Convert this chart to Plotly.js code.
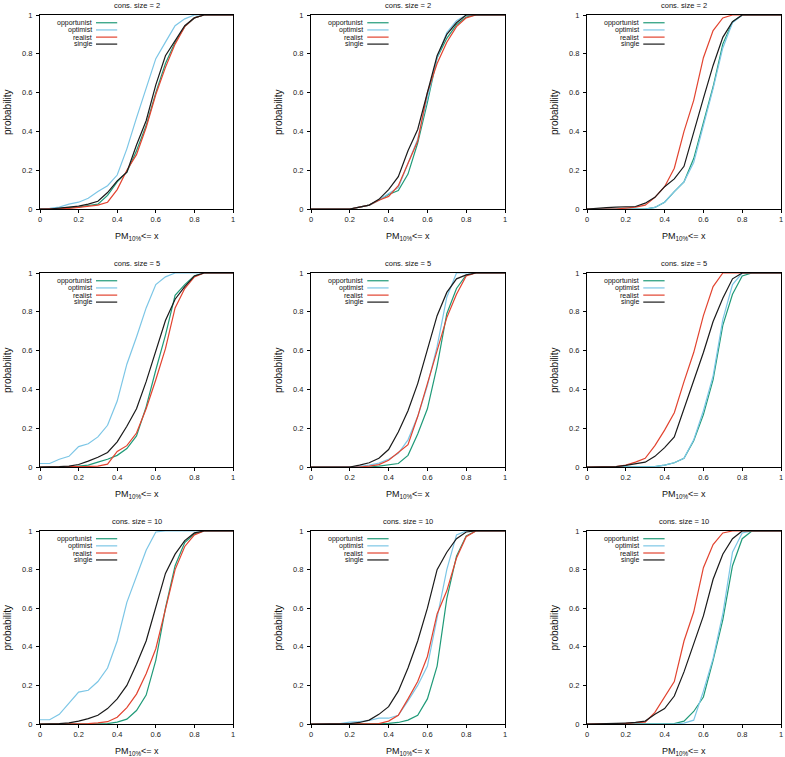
<!DOCTYPE html>
<html>
<head>
<meta charset="utf-8">
<script src="https://cdn.plot.ly/plotly-3.0.1.min.js"></script>
<style>html,body{margin:0;padding:0;background:#fff;}#chart{width:785px;height:757px;}</style>
</head>
<body>
<div id="chart"></div>
<script>
// x grid of the empirical CDFs
const xVals = [0,0.05,0.1,0.15,0.2,0.25,0.3,0.35,0.4,0.45,0.5,0.55,0.6,0.65,0.7,0.75,0.8,0.85,0.9,0.95,1];
const seriesNames = ["opportunist","optimist","realist","single"];
const panelTitles = ["cons. size = 2","cons. size = 2","cons. size = 2",
                     "cons. size = 5","cons. size = 5","cons. size = 5",
                     "cons. size = 10","cons. size = 10","cons. size = 10"];
const tickVals = [0,0.2,0.4,0.6,0.8,1];
const tickText = ["0","0.2","0.4","0.6","0.8","1"];

// Panel 1 (row 1, col 1)
const p1_opportunist = [0,0,0.003,0.007,0.01,0.018,0.025,0.07,0.14,0.19,0.30,0.43,0.60,0.75,0.86,0.94,0.985,1,1,1,1];
const p1_optimist    = [0,0.003,0.01,0.025,0.035,0.055,0.09,0.12,0.175,0.31,0.47,0.62,0.775,0.86,0.945,0.98,1,1,1,1,1];
const p1_realist     = [0,0,0,0.003,0.008,0.013,0.02,0.035,0.1,0.2,0.28,0.42,0.59,0.73,0.85,0.94,0.985,1,1,1,1];
const p1_single      = [0,0,0.005,0.01,0.015,0.025,0.04,0.085,0.145,0.19,0.33,0.455,0.64,0.79,0.865,0.945,0.985,1,1,1,1];
// Panel 2
const p2_opportunist = [0,0,0,0,0,0.01,0.02,0.045,0.075,0.095,0.18,0.34,0.55,0.78,0.88,0.95,0.99,1,1,1,1];
const p2_optimist    = [0,0,0,0,0,0.01,0.02,0.045,0.08,0.11,0.23,0.36,0.57,0.78,0.91,0.97,1,1,1,1,1];
const p2_realist     = [0,0,0,0,0,0.01,0.02,0.045,0.065,0.12,0.24,0.35,0.6,0.75,0.86,0.94,0.985,1,1,1,1];
const p2_single      = [0,0,0,0,0,0.01,0.02,0.05,0.1,0.167,0.30,0.41,0.6,0.79,0.9,0.96,1,1,1,1,1];
// Panel 3
const p3_opportunist = [0,0,0,0,0,0,0,0.008,0.035,0.09,0.14,0.26,0.44,0.63,0.85,0.965,1,1,1,1,1];
const p3_optimist    = [0,0,0,0,0,0,0,0.008,0.035,0.09,0.14,0.24,0.43,0.62,0.83,0.96,1,1,1,1,1];
const p3_realist     = [0,0,0,0,0.005,0.01,0.02,0.06,0.115,0.21,0.40,0.56,0.78,0.92,0.985,1,1,1,1,1,1];
const p3_single      = [0,0.005,0.007,0.01,0.01,0.013,0.03,0.06,0.115,0.155,0.22,0.40,0.57,0.74,0.885,0.965,1,1,1,1,1];
// Panel 4
const p4_opportunist = [0,0,0,0,0.005,0.01,0.025,0.04,0.06,0.095,0.16,0.31,0.5,0.68,0.885,0.94,0.985,1,1,1,1];
const p4_optimist    = [0.018,0.018,0.04,0.055,0.105,0.12,0.155,0.215,0.34,0.53,0.67,0.82,0.94,0.98,1,1,1,1,1,1,1];
const p4_realist     = [0,0,0,0,0,0.003,0.005,0.015,0.08,0.11,0.175,0.30,0.45,0.61,0.82,0.92,0.98,1,1,1,1];
const p4_single      = [0,0,0.002,0.005,0.013,0.03,0.05,0.075,0.13,0.21,0.30,0.44,0.60,0.755,0.865,0.93,0.985,1,1,1,1];
// Panel 5
const p5_opportunist = [0,0,0,0,0,0,0,0.005,0.012,0.018,0.06,0.17,0.30,0.52,0.79,0.92,0.99,1,1,1,1];
const p5_optimist    = [0,0,0,0,0,0.003,0.01,0.02,0.04,0.07,0.14,0.26,0.42,0.62,0.875,1,1,1,1,1,1];
const p5_realist     = [0,0,0,0,0,0,0.005,0.012,0.035,0.075,0.115,0.26,0.43,0.6,0.77,0.89,0.985,1,1,1,1];
const p5_single      = [0,0,0,0,0,0.01,0.022,0.045,0.09,0.18,0.29,0.43,0.6,0.78,0.9,0.97,0.99,1,1,1,1];
// Panel 6
const p6_opportunist = [0,0,0,0,0,0,0,0.002,0.01,0.022,0.045,0.135,0.27,0.45,0.73,0.89,0.985,1,1,1,1];
const p6_optimist    = [0,0,0,0,0,0,0,0.002,0.01,0.022,0.045,0.14,0.29,0.47,0.76,0.94,1,1,1,1,1];
const p6_realist     = [0,0,0,0.002,0.01,0.025,0.045,0.11,0.19,0.28,0.44,0.59,0.78,0.93,1,1,1,1,1,1,1];
const p6_single      = [0,0,0,0.002,0.008,0.015,0.025,0.055,0.1,0.155,0.3,0.44,0.59,0.75,0.87,0.97,1,1,1,1,1];
// Panel 7
const p7_opportunist = [0,0,0,0,0,0,0,0.002,0.01,0.025,0.07,0.15,0.33,0.6,0.82,0.94,0.985,1,1,1,1];
const p7_optimist    = [0.022,0.022,0.05,0.105,0.165,0.175,0.22,0.29,0.43,0.63,0.76,0.9,0.995,1,1,1,1,1,1,1,1];
const p7_realist     = [0,0,0,0,0,0.002,0.006,0.012,0.035,0.085,0.155,0.26,0.39,0.6,0.8,0.92,0.98,1,1,1,1];
const p7_single      = [0,0,0.002,0.006,0.015,0.028,0.045,0.08,0.13,0.2,0.31,0.43,0.6,0.78,0.88,0.95,0.99,1,1,1,1];
// Panel 8
const p8_opportunist = [0,0,0,0,0,0,0,0,0.003,0.008,0.02,0.045,0.13,0.3,0.65,0.87,0.975,1,1,1,1];
const p8_optimist    = [0,0,0,0.002,0.01,0.012,0.018,0.03,0.03,0.045,0.12,0.2,0.3,0.55,0.8,0.98,1,1,1,1,1];
const p8_realist     = [0,0,0,0,0,0,0,0.002,0.015,0.045,0.13,0.22,0.35,0.57,0.69,0.86,0.97,1,1,1,1];
const p8_single      = [0,0,0,0,0.002,0.008,0.02,0.05,0.09,0.17,0.29,0.43,0.6,0.8,0.89,0.96,0.995,1,1,1,1];
// Panel 9
const p9_opportunist = [0,0,0,0,0,0,0,0,0,0.002,0.015,0.065,0.14,0.33,0.54,0.82,0.96,1,1,1,1];
const p9_optimist    = [0,0,0,0,0,0,0,0,0,0,0.005,0.02,0.17,0.34,0.57,0.89,0.99,1,1,1,1];
const p9_realist     = [0,0,0,0,0.003,0.007,0.01,0.06,0.14,0.22,0.43,0.58,0.81,0.93,0.99,1,1,1,1,1,1];
const p9_single      = [0,0,0.002,0.003,0.005,0.008,0.015,0.05,0.08,0.145,0.27,0.41,0.56,0.75,0.88,0.96,1,1,1,1,1];

const panels = [
  [p1_opportunist,p1_optimist,p1_realist,p1_single],
  [p2_opportunist,p2_optimist,p2_realist,p2_single],
  [p3_opportunist,p3_optimist,p3_realist,p3_single],
  [p4_opportunist,p4_optimist,p4_realist,p4_single],
  [p5_opportunist,p5_optimist,p5_realist,p5_single],
  [p6_opportunist,p6_optimist,p6_realist,p6_single],
  [p7_opportunist,p7_optimist,p7_realist,p7_single],
  [p8_opportunist,p8_optimist,p8_realist,p8_single],
  [p9_opportunist,p9_optimist,p9_realist,p9_single]
];

const colors = ["#1f9a78","#7cc6e6","#e2432f","#1a1a1a"];
const FONT = "Liberation Sans, Arial, sans-serif";
const W = 785, H = 757;
const colPx = [[40,233],[311,505],[587,781]];
const rowPx = [[15,209],[273,467],[531,724]];

const traces = [];
const layout = {
  width: W, height: H,
  margin: {l:0,r:0,t:0,b:0},
  paper_bgcolor: "#fff", plot_bgcolor: "#fff",
  showlegend: false,
  font: {family: FONT, color: "#222"},
  annotations: [], shapes: []
};

const legendY = [0.960,0.923,0.886,0.850];

panels.forEach((series, i) => {
  const r = Math.floor(i/3), c = i%3;
  const n = i+1;
  const xa = n === 1 ? "x" : "x"+n;
  const ya = n === 1 ? "y" : "y"+n;
  series.forEach((vals, s) => {
    traces.push({
      type: "scatter", mode: "lines",
      x: xVals, y: vals, name: seriesNames[s],
      xaxis: xa, yaxis: ya,
      line: {color: colors[s], width: 1.2},
      hoverinfo: "x+y+name"
    });
  });
  const axCommon = {
    range: [0,1], tickvals: tickVals, ticktext: tickText,
    ticks: "outside", ticklen: 3, tickwidth: 1, tickcolor: "#000",
    showline: true, mirror: true, linecolor: "#000", linewidth: 1,
    showgrid: false, zeroline: false,
    tickfont: {size: 7.5, family: FONT, color: "#222"},
    fixedrange: true
  };
  layout[n===1?"xaxis":"xaxis"+n] = Object.assign({}, axCommon, {
    domain: [colPx[c][0]/W, colPx[c][1]/W], anchor: ya
  });
  layout[n===1?"yaxis":"yaxis"+n] = Object.assign({}, axCommon, {
    domain: [1-rowPx[r][1]/H, 1-rowPx[r][0]/H], anchor: xa, ticklabelstandoff: 2
  });
  const xd = xa + " domain", yd = ya + " domain";
  // panel title
  layout.annotations.push({
    text: panelTitles[i], xref: xd, yref: yd, x: 0.5, y: 1, yshift: 10,
    xanchor: "center", yanchor: "middle", showarrow: false,
    font: {size: 7.5, family: FONT, color: "#111"}
  });
  // y-axis title
  layout.annotations.push({
    text: "probability", xref: xd, yref: yd, x: 0, y: 0.5, xshift: -33,
    xanchor: "center", yanchor: "middle", textangle: -90, showarrow: false,
    font: {size: 10, family: FONT, color: "#111"}
  });
  // x-axis title
  layout.annotations.push({
    text: "PM<sub>10%</sub>&lt;= x", xref: xd, yref: yd, x: 0.5, y: 0, yshift: -27,
    xanchor: "center", yanchor: "middle", showarrow: false,
    font: {size: 9, family: FONT, color: "#111"}
  });
  // gnuplot-style key
  seriesNames.forEach((nm, s) => {
    layout.annotations.push({
      text: nm, xref: xd, yref: yd, x: 0.275, y: legendY[s],
      xanchor: "right", yanchor: "middle", showarrow: false, borderpad: 0,
      font: {size: 7, family: FONT, color: "#111"}
    });
    layout.shapes.push({
      type: "line", xref: xd, yref: yd,
      x0: 0.29, x1: 0.40, y0: legendY[s], y1: legendY[s],
      line: {color: colors[s], width: 1.2}
    });
  });
});

Plotly.newPlot("chart", traces, layout, {displayModeBar: false, staticPlot: true});
</script>
</body>
</html>
